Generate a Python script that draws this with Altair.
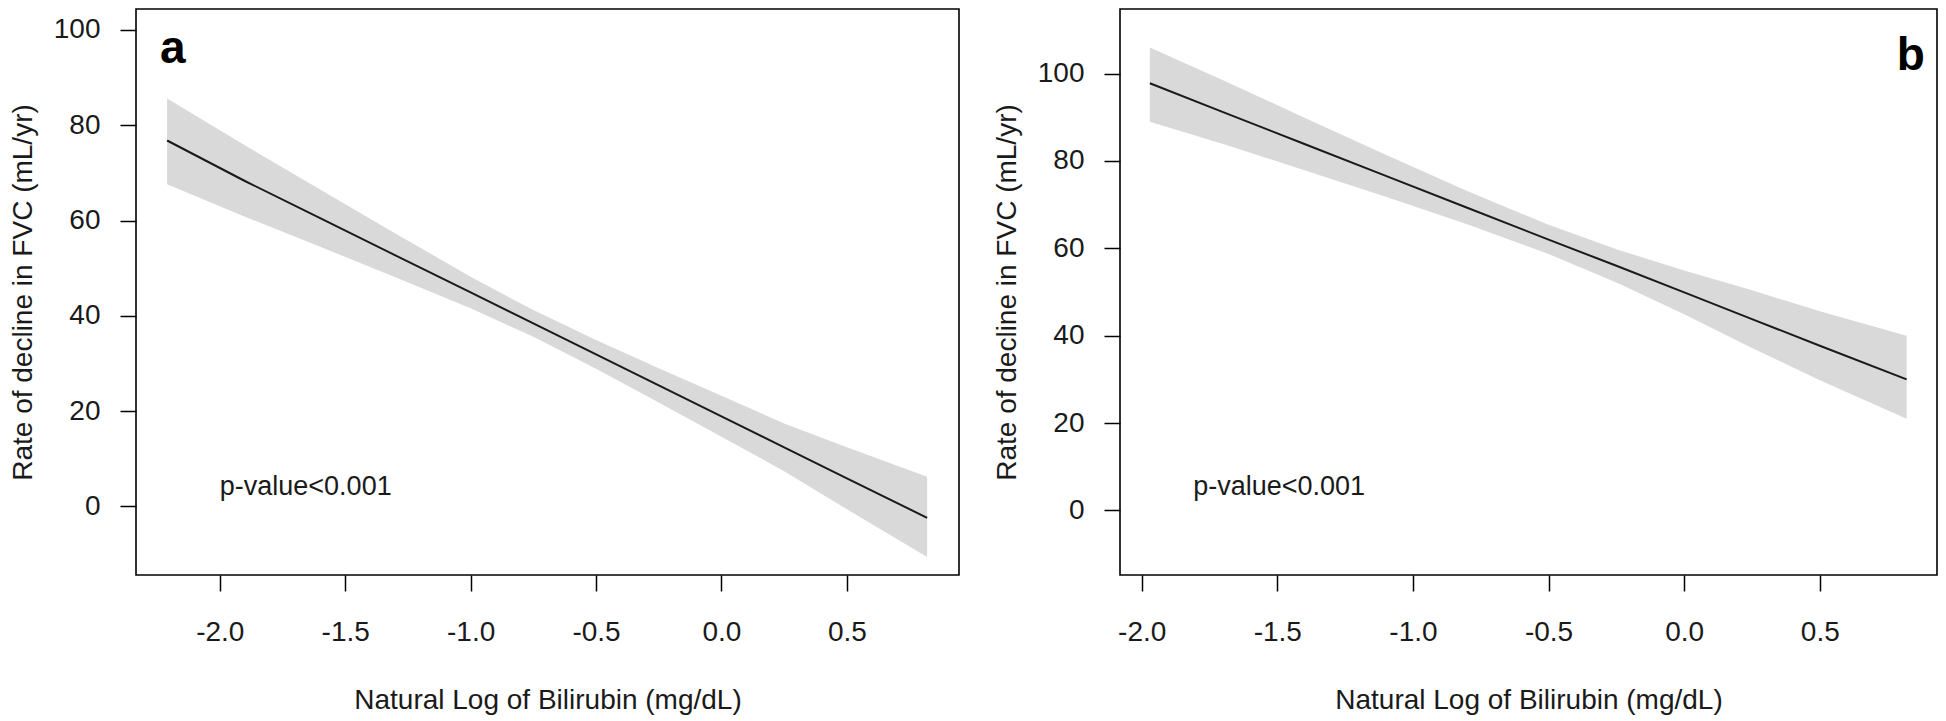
import altair as alt
import pandas as pd

# ---------------- Panel a data ----------------
xa = [-2.21, -1.9, -1.6, -1.3, -1.0, -0.75, -0.5, -0.25, 0.0, 0.25, 0.5, 0.82]
fit_a = [76.8, 68.3, 60.5, 52.7, 44.9, 38.4, 31.9, 25.4, 18.9, 12.4, 5.9, -2.4]
upper_a = [85.6, 75.8, 66.5, 57.3, 48.2, 41.2, 34.9, 29.0, 23.2, 17.4, 12.4, 6.2]
lower_a = [67.6, 60.8, 54.5, 48.1, 41.6, 35.6, 28.9, 21.8, 14.6, 7.4, -0.6, -10.6]

# ---------------- Panel b data ----------------
xb = [-1.97, -1.7, -1.4, -1.1, -0.8, -0.5, -0.25, 0.0, 0.25, 0.5, 0.82]
fit_b = [97.8, 91.2, 83.9, 76.6, 69.3, 62.0, 56.0, 49.9, 43.8, 37.7, 30.0]
upper_b = [106.0, 98.5, 89.9, 81.4, 73.1, 65.4, 59.8, 54.9, 50.4, 45.6, 40.0]
lower_b = [89.0, 83.9, 77.9, 71.8, 65.5, 58.7, 52.2, 44.9, 37.2, 29.8, 21.0]

# axis settings
x_ticks = [-2.0, -1.5, -1.0, -0.5, 0.0, 0.5]
y_ticks = [0, 20, 40, 60, 80, 100]
x_title = "Natural Log of Bilirubin (mg/dL)"
y_title = "Rate of decline in FVC (mL/yr)"
x_dom_a = [-2.334, 0.947]
y_dom_a = [-14.4, 104.4]
x_dom_b = [-2.080, 0.932]
y_dom_b = [-14.8, 114.8]

# annotations (data coordinates)
panel_labels = ["a", "b"]
panel_label_x = [-2.187, 0.835]
panel_label_y = [93.0, 100.8]
pval_text = "p-value<0.001"
pval_x = [-2.0, -1.81]
pval_y = [2.4, 3.6]

FONT = "Liberation Sans"
H = 566
X_LABEL = "datum.value < 0 ? '-' + format(-datum.value, '.1f') : format(datum.value, '.1f')"


def panel(xs, fit, up, lo, xdom, ydom, width, lab, lab_x, lab_y, p_x, p_y):
    df = pd.DataFrame({"x": xs, "fit": fit, "upper": up, "lower": lo})
    xenc = alt.X(
        "x:Q",
        scale=alt.Scale(domain=xdom, nice=False, zero=False),
        axis=alt.Axis(
            values=x_ticks, labelExpr=X_LABEL, title=x_title,
            labelPadding=27, titleY=133, titleBaseline="alphabetic",
            labelFlush=False, labelOverlap=False,
        ),
    )
    yscale = alt.Scale(domain=ydom, nice=False, zero=False)
    yaxis = alt.Axis(
        values=y_ticks, title=y_title, labelPadding=20,
        titleX=-113, titleY=H / 2, titleBaseline="middle",
        labelFlush=False, labelOverlap=False,
    )
    band = alt.Chart(df).mark_area(color="#d9d9d9", opacity=1).encode(
        x=xenc,
        y=alt.Y("upper:Q", scale=yscale, axis=yaxis),
        y2="lower:Q",
    )
    line = alt.Chart(df).mark_line(color="#1a1a1a", strokeWidth=2).encode(
        x="x:Q", y="fit:Q"
    )
    lab_df = pd.DataFrame({"x": [lab_x], "y": [lab_y], "t": [lab]})
    lab_mark = alt.Chart(lab_df).mark_text(
        font=FONT, fontSize=46, fontWeight="bold", color="#000",
        align="center", baseline="alphabetic",
    ).encode(x="x:Q", y="y:Q", text="t:N")
    p_df = pd.DataFrame({"x": [p_x], "y": [p_y], "t": [pval_text]})
    p_mark = alt.Chart(p_df).mark_text(
        font=FONT, fontSize=27, color="#1a1a1a",
        align="left", baseline="alphabetic",
    ).encode(x="x:Q", y="y:Q", text="t:N")
    return alt.layer(band, line, lab_mark, p_mark).properties(width=width, height=H)


pa = panel(xa, fit_a, upper_a, lower_a, x_dom_a, y_dom_a, 823,
           panel_labels[0], panel_label_x[0], panel_label_y[0], pval_x[0], pval_y[0])
pb = panel(xb, fit_b, upper_b, lower_b, x_dom_b, y_dom_b, 817,
           panel_labels[1], panel_label_x[1], panel_label_y[1], pval_x[1], pval_y[1])

chart = alt.hconcat(pa, pb, spacing=32).properties(padding=0).configure(
    background="white"
).configure_view(
    stroke="#000", strokeWidth=1.6
).configure_axis(
    domain=False, grid=False,
    tickColor="#000", tickWidth=1.5, tickSize=16,
    labelFont=FONT, labelFontSize=28, labelColor="#1a1a1a",
    titleFont=FONT, titleFontSize=28, titleFontWeight="normal", titleColor="#1a1a1a",
)

chart.save("out.html", embed_options={"renderer": "svg", "actions": False})
